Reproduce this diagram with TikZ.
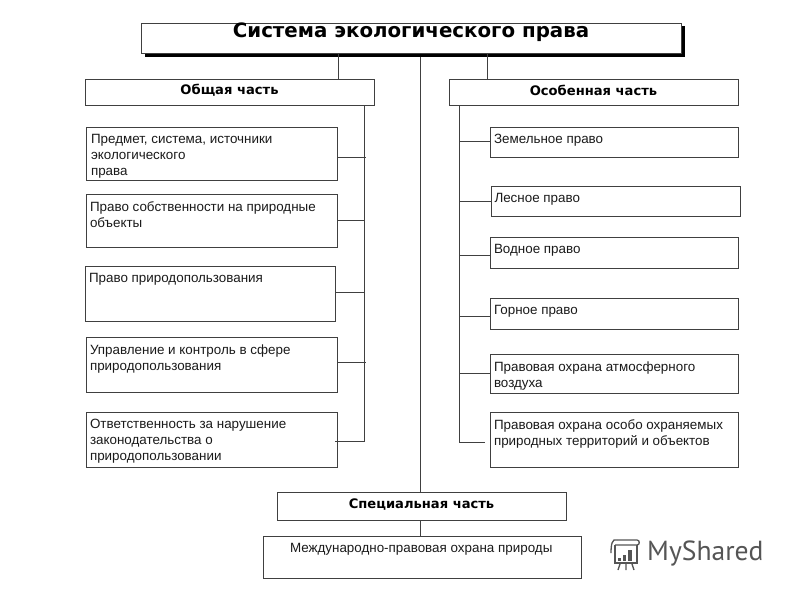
\documentclass[tikz,border=0pt]{standalone}
\usepackage{fontspec}
\setmainfont{Liberation Sans}
\newfontfamily\boldf{DejaVu Sans}
\newfontfamily\logof{PT Sans}
\definecolor{ln}{HTML}{404040}
\definecolor{tx}{HTML}{1A1A1A}
\definecolor{lg}{HTML}{555555}
\newcommand\bx[7][5]{%
  \node[boxn,anchor=north west,minimum width=#5pt,minimum height=#6pt] (#2) at (#3,-#4)
  {\parbox[t][#6pt][t]{#5pt}{\vspace{7.5pt}\hspace*{#1pt}\parbox[t]{\dimexpr#5pt-#1pt\relax}{\raggedright\lineskiplimit=-10pt\baselineskip=16pt #7}}};}
\newcommand\hd[6]{%
  \node[boxn,anchor=north west,minimum width=#4pt,minimum height=#5pt] (#1) at (#2,-#3) {};
  \node[hdt] at ([yshift=1.5pt]#1.center) {#6};}
\begin{document}
\begin{tikzpicture}[x=1pt,y=1pt,
  boxn/.style={draw=ln,line width=0.9pt,fill=white,inner sep=0pt,outer sep=0pt,font=\fontsize{13.4}{16}\selectfont,text=tx},
  hdt/.style={inner sep=0pt,font=\boldf\bfseries\fontsize{13.1}{15}\selectfont,text=black},
  conn/.style={draw=ln,line width=0.9pt},
  lgl/.style={draw=lg,line width=1.3pt}]
\useasboundingbox (0,0) rectangle (800,-600);
\fill[white] (0,0) rectangle (800,-600);
% title
\fill[black] (144.5,-26) rectangle (684.5,-57);
\hd{title}{141}{23}{540}{30}{}
\node[inner sep=0pt,font=\boldf\bfseries\fontsize{19.8}{22}\selectfont,text=black] (titletext) at (411,-32.5) {Система экологического права};
\hd{gen}{85}{79}{289}{26}{Общая часть}
\hd{spec}{449}{79}{289}{26}{Особенная часть}
\hd{sp}{277}{492}{289}{28}{Специальная часть}
\bx{intl}{263}{536}{318}{42}{\hspace*{22pt}Международно-правовая охрана природы}
% left
\bx{l1}{86}{127}{251}{53}{Предмет, система, источники\\экологического\\права}
\bx[4]{l2}{86}{194}{251}{53}{Право собственности на природные объекты}
\bx[4]{l3}{85}{266}{250}{55}{Право природопользования}
\bx[4]{l4}{86}{337}{251}{55}{Управление и контроль в сфере природопользования}
\bx[4]{l5}{86}{412}{251}{55}{Ответственность за нарушение законодательства о природопользовании}
% right
\bx[4]{r1}{490}{127}{248.5}{30}{Земельное право}
\bx[3.5]{r2}{491}{186}{249.5}{30}{Лесное право}
\bx[4]{r3}{490}{237}{248.5}{31}{Водное право}
\bx[4]{r4}{490}{298}{248.5}{31}{Горное право}
\bx[4]{r5}{490}{354}{248.5}{39}{Правовая охрана атмосферного воздуха}
\bx[4]{r6}{490}{412}{248.5}{55}{Правовая охрана особо охраняемых природных территорий и объектов}
% connectors
\coordinate (tA) at (338,-53); \coordinate (tB) at (487,-53); \coordinate (tC) at (420,-57);
\draw[conn] (tA) -- (tA |- gen.north);
\draw[conn] (tB) -- (tB |- spec.north);
\draw[conn] (tC) -- (tC |- sp.north);
\draw[conn] (tC |- sp.south) -- (tC |- intl.north);
\coordinate (ltop) at (364,-105); \coordinate (lbot) at (364,-441);
\coordinate (rtop) at (459,-105); \coordinate (rbot) at (459,-442);
\draw[conn] (ltop) -- (lbot) -- (335,-441);
\draw[conn] (337,-157) -- (366,-157);
\draw[conn] (337,-220) -- (364,-220);
\draw[conn] (335,-292) -- (364,-292);
\draw[conn] (337,-362) -- (366,-362);
\draw[conn] (rtop) -- (rbot) -- (485,-442);
\draw[conn] (459,-141) -- (r1.west |- 0,-141);
\draw[conn] (459,-201) -- (r2.west |- 0,-201);
\draw[conn] (459,-255) -- (r3.west |- 0,-255);
\draw[conn] (459,-316) -- (r4.west |- 0,-316);
\draw[conn] (459,-373) -- (r5.west |- 0,-373);
% logo
\draw[lgl] (617,-540) -- (637,-540) .. controls (640,-540) and (640,-545) .. (637,-545) -- (615,-545);
\draw[lgl] (617,-540) .. controls (612,-538) and (611,-545) .. (611,-553);
\draw[lgl] (615,-545) -- (615,-563) -- (637,-563) -- (637,-545);
\fill[lg] (618,-558) rectangle (620.5,-560.5);
\fill[lg] (623,-555) rectangle (626,-560.5);
\fill[lg] (628,-550) rectangle (631.5,-560.5);
\draw[lgl] (620,-564) -- (618,-570) (626,-564) -- (626,-570) (632,-564) -- (634,-570);
\node[anchor=west,inner sep=0pt,text=lg,font=\logof\fontsize{27.6}{30}\selectfont] (logo) at (647,-553) {MyShared};
\end{tikzpicture}
\end{document}
